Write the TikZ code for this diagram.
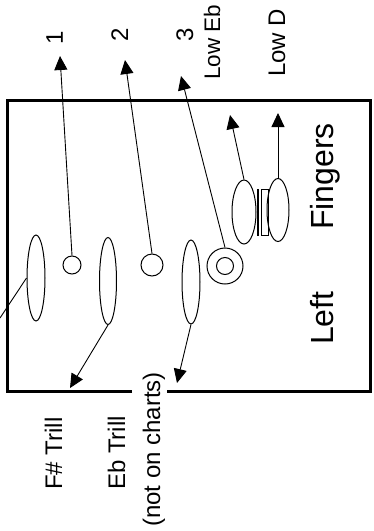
\documentclass[tikz,border=0pt]{standalone}
\usepackage{fontspec}
\setmainfont{Liberation Sans}
\usetikzlibrary{shapes.geometric,arrows.meta}

\begin{document}
\begin{tikzpicture}[x=1pt,y=-1pt,
  key/.style={draw, ellipse, line width=1pt, inner sep=0pt},
  hole/.style={draw, circle, line width=1pt, inner sep=0pt},
  lead/.style={line width=0.9pt, -{Triangle[length=14pt,width=13pt]}},
  plain/.style={line width=0.9pt},
  lbl/.style={rotate=90, inner sep=0pt, anchor=base west, font=\fontsize{24}{28}\selectfont},
  num/.style={rotate=90, inner sep=0pt, anchor=base, font=\fontsize{24}{28}\selectfont},
  big/.style={rotate=90, inner sep=0pt, anchor=base west, font=\fontsize{32}{38}\selectfont},
  frame/.style={line width=3pt}]
\useasboundingbox (0,0) rectangle (374,531);
\fill[white] (0,0) rectangle (374,531);

% outline of the left-hand key area, open where the note passes through
\draw[frame] (132,391) -| (7,100) -| (370,391) -- (167,391);

% trill keys
\node[key, minimum width=18pt, minimum height=86pt] (kA) at (36,278) {};
\node[key, minimum width=17pt, minimum height=87pt] (kB) at (108,281) {};
\node[key, minimum width=18pt, minimum height=84pt] (kC) at (191,282) {};

% tone holes
\node[hole, minimum size=18pt] (h1) at (72,265) {};
\node[hole, minimum size=22pt] (h2) at (152,265) {};
\node[hole, minimum size=36pt] (h3) at (225,266) {};
\node[hole, minimum size=17pt] (h3in) at (225,266) {};

% low note keys
\node[key, minimum width=24pt, minimum height=64pt] (fL) at (244,212) {};
\node[key, minimum width=22pt, minimum height=63pt] (fR) at (278,210) {};
\draw[line width=2.2pt] (258,189) -- (258,236);
\node[draw, rectangle, line width=0.9pt, inner sep=0pt, minimum width=7pt, minimum height=46pt] (bar) at (264.5,212) {};

% arrow ends
\coordinate (t1) at (60,56);
\coordinate (t2) at (125,60);
\coordinate (t3) at (181,76);
\coordinate (tEb) at (230,115);
\coordinate (tD) at (278,113);
\coordinate (tF) at (70,388);
\coordinate (tE) at (177,383);
\coordinate (offA) at (0,318);

\draw[lead] (h1.north) -- (t1);
\draw[lead] (h2.north) -- (t2);
\draw[lead] (h3.north) -- (t3);
\draw[lead] (fL.north) -- (tEb);
\draw[lead] (fR.north) -- (tD);
\draw[lead] (kB.south) -- (tF);
\draw[lead] (kC.south) -- (tE);
\draw[plain] (kA.west) -- (offA);

% labels
\node[num] (n1) at (63,38) {1};
\node[num] (n2) at (128,35) {2};
\node[num] (n3) at (193,35) {3};
\node[lbl, font=\fontsize{22.5}{27}\selectfont] (lEb) at (220,80) {Low Eb};
\node[lbl] (lD) at (285,77) {Low D};
\node[lbl] (lF) at (62,490) {F\# Trill};
\node[lbl] (lE) at (125,490) {Eb Trill};
\node[lbl] (lN) at (160,527) {(not on charts)};
\node[big] (lFing) at (333,230) {Fingers};
\node[big] (lLeft) at (333,345) {Left};
\end{tikzpicture}
\end{document}
